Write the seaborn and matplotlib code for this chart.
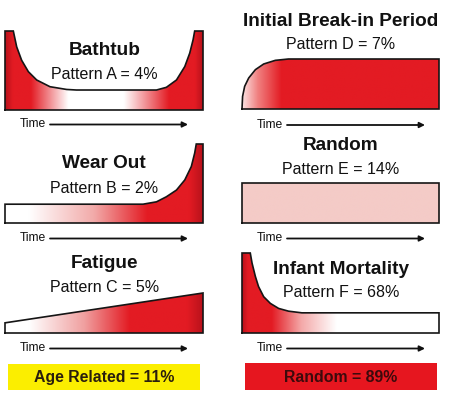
import numpy as np
import pandas as pd
import matplotlib
matplotlib.use("Agg")
import matplotlib.pyplot as plt
import seaborn as sns
from matplotlib.patches import Polygon, Rectangle
from matplotlib.colors import to_rgb

# ---------------- data ----------------
titles = ["Bathtub", "Wear Out", "Fatigue",
          "Initial Break-in Period", "Random", "Infant Mortality"]
pattern_labels = ["Pattern A = 4%", "Pattern B = 2%", "Pattern C = 5%",
                  "Pattern D = 7%", "Pattern E = 14%", "Pattern F = 68%"]
summary_labels = ["Age Related = 11%", "Random = 89%"]
time_label = "Time"

# conditional probability of failure (normalised) vs time (normalised)
bathtub_t = [0.0, 0.042, 0.059, 0.084, 0.118, 0.160, 0.227, 0.311, 0.361,
             0.765, 0.815, 0.866, 0.908, 0.933, 0.950, 0.958, 1.0]
bathtub_rate = [1.0, 1.0, 0.80, 0.63, 0.485, 0.38, 0.295, 0.26, 0.253,
                0.253, 0.287, 0.38, 0.55, 0.72, 0.89, 1.0, 1.0]

wearout_t = [0.0, 0.697, 0.765, 0.815, 0.866, 0.908, 0.941, 0.958, 0.966, 1.0]
wearout_rate = [0.238, 0.238, 0.268, 0.332, 0.417, 0.545, 0.715, 0.885, 1.0, 1.0]

fatigue_t = [0.0, 1.0]
fatigue_rate = [0.254, 1.0]

breakin_t = [0.0, 0.003, 0.0135, 0.034, 0.068, 0.11, 0.169, 0.236, 1.0]
breakin_rate = [0.0, 0.253, 0.453, 0.62, 0.787, 0.9, 0.973, 1.0, 1.0]

random_t = [0.0, 1.0]
random_rate = [1.0, 1.0]

infant_t = [0.0, 0.042, 0.051, 0.068, 0.084, 0.11, 0.144, 0.186, 0.236, 0.304, 1.0]
infant_rate = [1.0, 1.0, 0.874, 0.706, 0.58, 0.454, 0.37, 0.307, 0.273, 0.252, 0.252]

curves = [(bathtub_t, bathtub_rate), (wearout_t, wearout_rate), (fatigue_t, fatigue_rate),
          (breakin_t, breakin_rate), (random_t, random_rate), (infant_t, infant_rate)]

# ---------------- styling / layout ----------------
RED = "#e31b23"
DARK = "#b9121b"
WHITE = "#ffffff"
PINK = "#f4cbc7"
OUTLINE = "#151515"

# gradient stops (position, colour) per panel
grad_stops = [
    [(0, DARK), (0.04, RED), (0.13, RED), (0.32, WHITE), (0.60, WHITE), (0.83, RED), (0.96, RED), (1, DARK)],
    [(0, WHITE), (0.12, WHITE), (0.45, "#f2aaa9"), (0.72, RED), (0.93, RED), (1, DARK)],
    [(0, WHITE), (0.12, WHITE), (0.40, "#f0a0a0"), (0.63, RED), (0.92, RED), (1, DARK)],
    [(0, "#fbe3e3"), (0.08, "#f08080"), (0.2, RED), (1, RED)],
    [(0, PINK), (1, PINK)],
    [(0, DARK), (0.03, RED), (0.15, RED), (0.30, "#f4a8a8"), (0.48, WHITE), (1, WHITE)],
]

# panel box in pixels: x0, x1, y_top, y_bottom
boxes = [(5, 203, 31, 110), (5, 203, 144, 223), (5, 203, 293, 333),
         (242, 439, 59, 109), (242, 439, 183, 223), (242, 439, 253, 333)]
# text baselines (title, subtitle), centre x, time arrow y
title_pos = [(104.5, 55, 79), (104, 168, 193), (104.5, 268, 292),
             (341, 26, 49), (341, 150, 174.5), (341, 273.5, 297)]
time_y = [124, 238, 348, 124.5, 238, 348]

W, H = 450, 395
sns.set_theme(style="white")
plt.rcParams["font.family"] = ["Liberation Sans", "DejaVu Sans"]

fig = plt.figure(figsize=(W / 100, H / 100), dpi=100)
fig.patch.set_facecolor("white")

over = fig.add_axes([0, 0, 1, 1])
over.set_xlim(0, W)
over.set_ylim(H, 0)
over.axis("off")


def gradient_image(stops, n=400):
    pos = np.array([s[0] for s in stops])
    cols = np.array([to_rgb(s[1]) for s in stops])
    xs = np.linspace(0, 1, n)
    img = np.stack([np.interp(xs, pos, cols[:, k]) for k in range(3)], axis=-1)
    return img[np.newaxis, :, :]


for i, ((t, r), (x0, x1, yt, yb)) in enumerate(zip(curves, boxes)):
    ax = fig.add_axes([x0 / W, 1 - yb / H, (x1 - x0) / W, (yb - yt) / H])
    ax.set_xlim(0, 1)
    ax.set_ylim(0, 1)
    ax.axis("off")
    verts = [(0, 0)] + list(zip(t, r)) + [(1, 0)]
    poly = Polygon(verts, closed=True, transform=ax.transData,
                   facecolor="none", edgecolor="none")
    ax.add_patch(poly)
    im = ax.imshow(gradient_image(grad_stops[i]), extent=(0, 1, 0, 1),
                   aspect="auto", interpolation="bilinear", zorder=1)
    im.set_clip_path(poly)
    vx = [v[0] for v in verts] + [verts[0][0]]
    vy = [v[1] for v in verts] + [verts[0][1]]
    outline = pd.DataFrame({"time": vx, "rate": vy})
    sns.lineplot(data=outline, x="time", y="rate", sort=False, estimator=None,
                 color=OUTLINE, linewidth=1.2, ax=ax, zorder=3)
    for ln in ax.lines:
        ln.set_clip_on(False)
        ln.set_solid_joinstyle("miter")
    ax.set_xlim(0, 1)
    ax.set_ylim(0, 1)
    ax.axis("off")

    cx, ty, sy = title_pos[i]
    over.text(cx, ty, titles[i], ha="center", va="baseline",
              fontsize=13.7, fontweight="bold", color="#111111")
    over.text(cx, sy, pattern_labels[i], ha="center", va="baseline",
              fontsize=11.5, color="#111111")
    ly = time_y[i]
    over.text(x0 + 14.5, ly, time_label, ha="left", va="center",
              fontsize=8.7, color="#111111")
    over.annotate("", xy=(x0 + 183, ly + 0.5), xytext=(x0 + 45, ly + 0.5),
                  arrowprops=dict(arrowstyle="-|>", lw=1.3, color="#111111",
                                  mutation_scale=8, shrinkA=0, shrinkB=0))

# summary boxes
over.add_patch(Rectangle((8, 364), 192, 26, facecolor="#fbee00", edgecolor="none"))
over.text(104, 377.5, summary_labels[0], ha="center", va="center",
          fontsize=11.4, fontweight="bold", color="#2a1e0e")
over.add_patch(Rectangle((245, 363), 192, 27, facecolor="#e6161f", edgecolor="none"))
over.text(341, 377, summary_labels[1], ha="center", va="center",
          fontsize=11.4, fontweight="bold", color="#3c0a0c")

fig.savefig("out.png", dpi=100, facecolor="white")
